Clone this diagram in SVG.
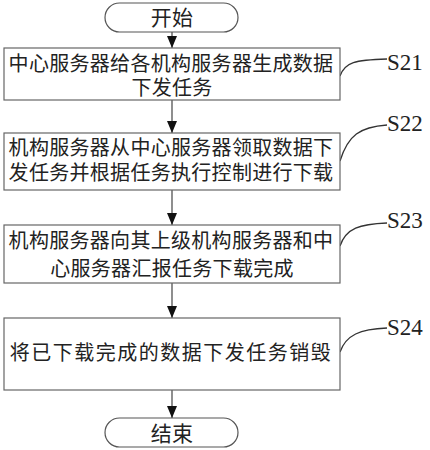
<svg xmlns="http://www.w3.org/2000/svg" width="430" height="450" viewBox="0 0 430 450">
<style>
.box{fill:#fff;stroke:#666;stroke-width:1.2}
.term{fill:#fff;stroke:#555;stroke-width:1.2}
.t{font-family:"Liberation Sans","Noto Sans CJK SC",sans-serif;font-size:20px;fill:#222;text-anchor:middle;letter-spacing:0.3px}
.s{font-family:"Liberation Serif",serif;font-size:23px;fill:#222}
.c{fill:none;stroke:#333;stroke-width:1.3}
.a{stroke:#444;stroke-width:1.2;fill:none}
</style>
<defs>
<marker id="ah" viewBox="0 0 12 10" refX="12" refY="5" markerWidth="12" markerHeight="10" markerUnits="userSpaceOnUse" orient="auto">
<path d="M0,0 L12,5 L0,10 Z" fill="#111"/>
</marker>
</defs>
<rect width="430" height="450" fill="#fff"/>
<g id="connectors">
<line class="a" x1="172" y1="32" x2="172" y2="48" marker-end="url(#ah)"/>
<line class="a" x1="172" y1="100" x2="172" y2="133" marker-end="url(#ah)"/>
<line class="a" x1="172" y1="190" x2="172" y2="225" marker-end="url(#ah)"/>
<line class="a" x1="172" y1="283" x2="172" y2="318" marker-end="url(#ah)"/>
<line class="a" x1="172" y1="390" x2="172" y2="418" marker-end="url(#ah)"/>
<path class="c" d="M340,76 C345,62 355,60 387,59"/>
<path class="c" d="M340,161 C348,135 360,127 387,125"/>
<path class="c" d="M340,246 C346,228 360,224 387,223"/>
<path class="c" d="M340,352 C346,335 360,329 387,328"/>
</g>
<g id="start">
<rect class="term" x="105" y="3" width="133" height="29" rx="14.5"/>
<text class="t" x="172" y="24.5" style="font-size:21px">开始</text>
</g>
<g id="S21">
<rect class="box" x="4" y="48" width="336" height="52"/>
<text class="t"><tspan x="171" y="71">中心服务器给各机构服务器生成数据</tspan><tspan x="172" y="94.5">下发任务</tspan></text>
<text class="s" x="387" y="70">S21</text>
</g>
<g id="S22">
<rect class="box" x="4" y="133" width="336" height="57"/>
<text class="t"><tspan x="171" y="155">机构服务器从中心服务器领取数据下</tspan><tspan x="171" y="179.5">发任务并根据任务执行控制进行下载</tspan></text>
<text class="s" x="387" y="131">S22</text>
</g>
<g id="S23">
<rect class="box" x="4" y="225" width="336" height="58"/>
<text class="t"><tspan x="171" y="248">机构服务器向其上级机构服务器和中</tspan><tspan x="172" y="275.5">心服务器汇报任务下载完成</tspan></text>
<text class="s" x="387" y="228">S23</text>
</g>
<g id="S24">
<rect class="box" x="4" y="318" width="336" height="72"/>
<text class="t" x="171" y="360" style="letter-spacing:1.5px">将已下载完成的数据下发任务销毁</text>
<text class="s" x="387" y="335">S24</text>
</g>
<g id="end">
<rect class="term" x="105" y="418" width="133" height="29" rx="14.5"/>
<text class="t" x="172" y="440.5" style="font-size:21px">结束</text>
</g>
</svg>
